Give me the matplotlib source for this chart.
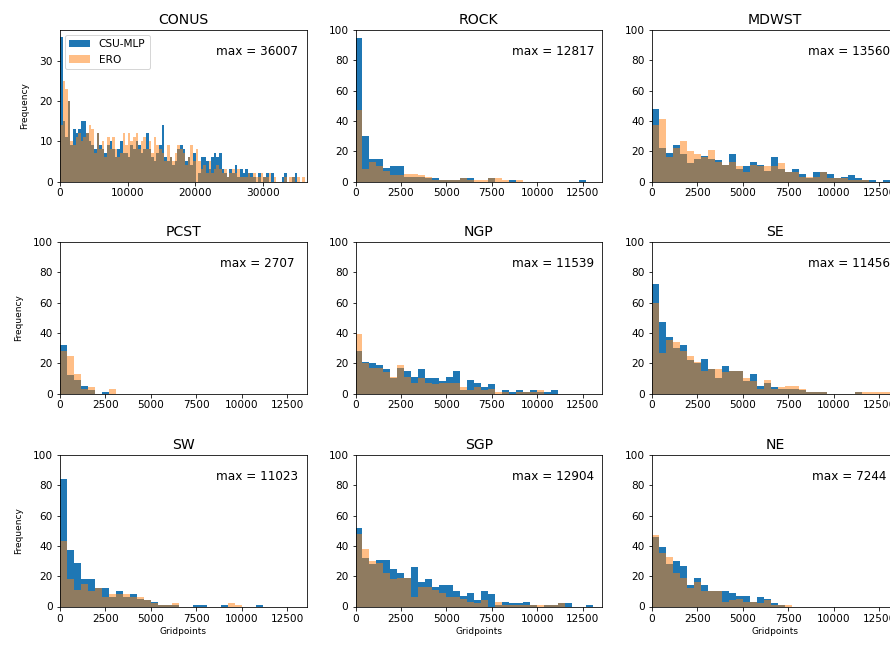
import numpy as np
import matplotlib
matplotlib.use("Agg")
import matplotlib.pyplot as plt

# ---------------- data (histogram counts per 385-gridpoint bin) ----------------
bin_width = 385

regions = ["CONUS", "ROCK", "MDWST", "PCST", "NGP", "SE", "SW", "SGP", "NE"]
max_values = [36007, 12817, 13560, 2707, 11539, 11456, 11023, 12904, 7244]

conus_csu = [36, 15, 11, 20, 9, 13, 12, 13, 15, 15, 12,
             10, 9, 8, 12, 9, 8, 7, 9, 10, 8,
             6, 8, 10, 7, 7, 6, 9, 8, 10, 9,
             7, 8, 12, 8, 6, 5, 7, 9, 14, 6,
             5, 6, 4, 5, 8, 9, 8, 5, 6, 4,
             7, 0, 2, 6, 6, 5, 3, 6, 7, 6,
             7, 3, 2, 1, 3, 2, 4, 1, 3, 2,
             3, 2, 2, 1, 0, 2, 0, 1, 2, 0,
             2, 0, 0, 0, 1, 2, 0, 0, 1, 2, 0, 0, 0]
conus_ero = [14, 25, 23, 20, 10, 9, 11, 12, 10, 11, 12,
             14, 13, 7, 12, 8, 10, 6, 11, 8, 11,
             8, 6, 7, 12, 9, 12, 10, 11, 12, 8,
             10, 11, 8, 10, 7, 11, 9, 8, 7, 5,
             9, 6, 5, 7, 9, 8, 7, 4, 6, 9,
             5, 8, 5, 3, 4, 2, 5, 2, 3, 4,
             3, 2, 3, 1, 2, 3, 2, 3, 1, 1,
             1, 2, 1, 2, 1, 1, 2, 1, 1, 2,
             0, 1, 0, 0, 0, 1, 0, 1, 1, 0, 1, 0, 1]

rock_csu = [95, 30, 15, 15, 9, 10, 10, 3, 3, 3, 2, 2, 1, 1, 1, 2, 2, 0, 0, 2,
            0, 0, 1, 0, 0, 0, 0, 0, 0, 0, 0, 0, 1]
rock_ero = [47, 8, 13, 10, 7, 4, 4, 5, 5, 4, 3, 1, 1, 1, 1, 2, 1, 1, 1, 2,
            2, 1, 0, 1]

mdwst_csu = [48, 22, 19, 24, 18, 12, 15, 17, 15, 14, 11, 18, 8, 10, 13, 11, 7, 16,
             8, 6, 8, 5, 2, 6, 6, 5, 2, 3, 4, 2, 1, 1, 0, 1, 0, 1]
mdwst_ero = [37, 41, 16, 22, 27, 20, 18, 16, 21, 13, 11, 13, 10, 6, 11, 10, 10, 10,
             12, 6, 6, 3, 3, 3, 6, 2, 2, 2, 1, 1, 1]

pcst_csu = [32, 12, 9, 5, 2, 0, 1]
pcst_ero = [28, 25, 13, 3, 4, 0, 0, 3]

ngp_csu = [28, 21, 20, 19, 16, 10, 17, 15, 11, 16, 10, 10, 8, 11, 15, 2, 9, 7,
           4, 6, 0, 2, 1, 2, 1, 2, 1, 1, 2, 0]
ngp_ero = [39, 20, 17, 17, 14, 11, 19, 11, 7, 10, 7, 6, 7, 7, 7, 4, 2, 4,
           2, 3, 1, 1, 0, 1, 1, 1, 2]

se_csu = [72, 47, 37, 30, 32, 22, 20, 23, 16, 10, 18, 15, 15, 8, 13, 5, 7, 4,
          3, 3, 3, 2, 1, 1, 1, 0, 0, 0, 0, 1]
se_ero = [60, 27, 35, 34, 28, 25, 21, 15, 16, 16, 14, 15, 15, 10, 8, 3, 9, 3,
          4, 5, 5, 3, 1, 1, 1, 0, 0, 0, 0, 1, 1, 1, 1, 1, 1]

sw_csu = [84, 37, 29, 18, 18, 12, 12, 6, 10, 6, 8, 5, 4, 3, 1, 1, 1, 0,
          0, 1, 1, 0, 0, 1, 0, 0, 0, 0, 1]
sw_ero = [43, 18, 11, 15, 10, 12, 6, 8, 8, 8, 6, 6, 4, 2, 1, 1, 2, 0,
          0, 0, 0, 0, 0, 0, 2, 1]

sgp_csu = [52, 32, 28, 31, 31, 25, 22, 19, 26, 16, 18, 13, 14, 14, 10, 7, 9, 4,
           10, 8, 1, 3, 2, 2, 3, 1, 0, 1, 1, 2, 2, 0, 0, 1]
sgp_ero = [48, 38, 30, 29, 22, 18, 19, 19, 6, 13, 13, 11, 9, 6, 6, 5, 3, 2,
           4, 0, 3, 1, 1, 1, 1, 1, 1, 1, 1, 2]

ne_csu = [46, 39, 28, 30, 27, 14, 19, 14, 10, 10, 10, 9, 7, 7, 3, 6, 5, 2, 1]
ne_ero = [47, 35, 33, 22, 19, 12, 16, 10, 10, 10, 3, 4, 5, 3, 3, 2, 4, 1, 1, 1]

csu_counts = [conus_csu, rock_csu, mdwst_csu, pcst_csu, ngp_csu, se_csu, sw_csu, sgp_csu, ne_csu]
ero_counts = [conus_ero, rock_ero, mdwst_ero, pcst_ero, ngp_ero, se_ero, sw_ero, sgp_ero, ne_ero]

# ---------------- figure ----------------
W, H = 890, 648
fig = plt.figure(figsize=(W / 72, H / 72), dpi=72)

col_left = [60, 355.5, 652]
row_bottom = [181.5, 393.5, 606.5]
ax_w, ax_h = 246.5, 151.5

blue = "#1f77b4"
orange = "#ff7f0e"

for i, name in enumerate(regions):
    r, c = divmod(i, 3)
    ax = fig.add_axes([col_left[c] / W, (H - row_bottom[r]) / H, ax_w / W, ax_h / H])
    cs = np.asarray(csu_counts[i], dtype=float)
    er = np.asarray(ero_counts[i], dtype=float)
    e_cs = np.arange(len(cs) + 1) * bin_width
    e_er = np.arange(len(er) + 1) * bin_width
    ax.hist(e_cs[:-1], bins=e_cs, weights=cs, color=blue, label="CSU-MLP")
    ax.hist(e_er[:-1], bins=e_er, weights=er, color=orange, alpha=0.5, label="ERO")
    ax.set_title(name, fontsize=14, pad=6)
    ax.text(0.80, 0.855, f"max = {max_values[i]}", transform=ax.transAxes,
            ha="center", va="center", fontsize=12)
    ax.tick_params(labelsize=10.5)
    if i == 0:
        ax.set_xlim(0, 36400)
        ax.set_xticks([0, 10000, 20000, 30000])
        ax.set_yticks([0, 10, 20, 30])
        ax.legend(loc="upper left", fontsize=10.5)
    else:
        ax.set_xlim(0, 13560)
        ax.set_ylim(0, 100)
        ax.set_xticks([0, 2500, 5000, 7500, 10000, 12500])
        ax.set_yticks([0, 20, 40, 60, 80, 100])
    if c == 0:
        ax.set_ylabel("Frequency", fontsize=9, labelpad=10)
    if r == 2:
        ax.set_xlabel("Gridpoints", fontsize=9)

fig.savefig("out.png", dpi=72)
